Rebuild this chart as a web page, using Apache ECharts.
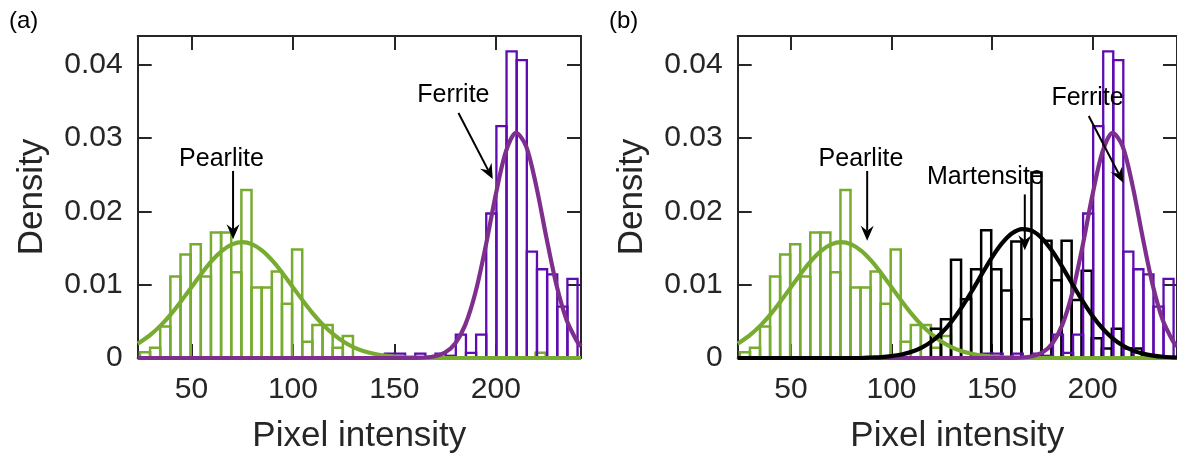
<!DOCTYPE html>
<html><head><meta charset="utf-8">
<script src="https://cdn.jsdelivr.net/npm/echarts@6/dist/echarts.min.js"></script>
<style>html,body{margin:0;padding:0;background:#fff}#c{width:1177px;height:459px}</style>
</head><body><div id="c"></div>
<script>
// ---------- data ----------
const xTicks = [50, 100, 150, 200];
const yTicks = [0, 0.01, 0.02, 0.03, 0.04];
const xRange = [23.5, 242];
const yRange = [0, 0.0439];
const binWidth = 5;

const pearliteStart = 24.6;
const pearliteHist = [0.0008, 0.0014, 0.0043, 0.0111, 0.0141, 0.0155, 0.0111, 0.0171, 0.0171, 0.0117,
  0.0229, 0.0096, 0.0096, 0.0118, 0.0074, 0.0148, 0.0022, 0.0045, 0.0045, 0.0014,
  0.0030, 0, 0, 0, 0, 0, 0, 0, 0, 0,
  0, 0, 0, 0, 0, 0, 0, 0, 0, 0.0007];

const ferriteStart = 145.3;
const ferriteHist = [0.0006, 0.0006, 0, 0.0006, 0, 0.0006, 0.0003, 0.0032, 0.0007, 0.0032,
  0.0197, 0.0316, 0.0418, 0.0406, 0.0145, 0.0121, 0.0114, 0.0070, 0.0108];

const martensiteStart = 119.6;
const martensiteHist = [0.0040, 0.0053, 0.0134, 0.0080, 0.0121, 0.0174, 0.0121, 0.0092, 0.0159, 0.0053,
  0.0253, 0.0160, 0.0106, 0.0160, 0.0079, 0.0119, 0.0027, 0.0013, 0.0040, 0.0013, 0.0013];

const curveX = [23.5, 25, 30, 35, 40, 45, 50, 55, 60, 65, 70, 75, 80, 85, 90, 95, 100, 105, 110, 115,
  120, 125, 130, 135, 140, 145, 150, 155, 160, 165, 170, 175, 180, 185, 190, 195, 200, 205, 210, 215,
  220, 225, 230, 235, 240, 242];
const pearliteFit = [0.00196, 0.00221, 0.00321, 0.00448, 0.00602, 0.00778, 0.00966, 0.01153, 0.01323, 0.01460,
  0.01549, 0.01580, 0.01549, 0.01460, 0.01323, 0.01153, 0.00966, 0.00778, 0.00602, 0.00448,
  0.00321, 0.00221, 0.00146, 0.00093, 0.00057, 0.00033, 0.00019, 0.00010, 0.00005, 0.00003,
  0.00001, 0, 0, 0, 0, 0, 0, 0, 0, 0, 0, 0, 0, 0, 0, 0];
const ferriteFit = [0, 0, 0, 0, 0, 0, 0, 0, 0, 0, 0, 0, 0, 0, 0, 0, 0, 0, 0, 0,
  0, 0, 0, 0, 0, 0, 0, 0, 0.00002, 0.00007, 0.00025, 0.00075, 0.00199, 0.00455, 0.00896, 0.01522,
  0.02229, 0.02816, 0.03070, 0.02884, 0.02337, 0.01634, 0.00985, 0.00512, 0.00230, 0.00160];
const martensiteFit = [0, 0, 0, 0, 0, 0, 0, 0, 0, 0, 0, 0, 0, 0, 0.00007, 0.00013, 0.00026, 0.00048, 0.00084, 0.00141,
  0.00226, 0.00344, 0.00501, 0.00693, 0.00913, 0.01147, 0.01373, 0.01565, 0.01700, 0.01758,
  0.01733, 0.01627, 0.01455, 0.01240, 0.01006, 0.00778, 0.00573, 0.00402, 0.00269, 0.00171,
  0.00104, 0.00060, 0.00033, 0.00017, 0.00009, 0.00007];

// annotations in data coordinates
const labelsA = [['Pearlite', 64.8, 0.0271], ['Ferrite', 179.1, 0.0359]];
const arrowsA = [[70.5, 0.0255, 70.5, 0.0162], [181.6, 0.0334, 198.5, 0.0244]];
const labelsB = [['Pearlite', 84.8, 0.0271], ['Martensite', 146.7, 0.0247], ['Ferrite', 197.5, 0.0355]];
const arrowsB = [[87.9, 0.0255, 87.9, 0.0160], [166.3, 0.0223, 166.3, 0.0147], [198.1, 0.0330, 215.3, 0.0239]];

// ---------- styles ----------
const FONT = 'Liberation Sans, Arial, Helvetica, sans-serif';
const AX = '#262626';
const GREEN = '#77AC30', PURPLE_BAR = '#5E0BB0', PURPLE = '#7E2F8E', BLACK = '#000000';

const chart = echarts.init(document.getElementById('c'), null, {renderer: 'canvas'});

const grids = [
  {left: 137.7, right: 596, top: 36, bottom: 99.3},
  {left: 737.7, right: -4, top: 36, bottom: 99.3}
];

function xAxes(gi) {
  const common = {type: 'value', gridIndex: gi, min: xRange[0], max: xRange[1], splitLine: {show: false},
    axisLine: {show: true, onZero: false, lineStyle: {color: AX, width: 2}}};
  return [
    Object.assign({}, common, {position: 'bottom',
      axisTick: {show: true, inside: true, length: 14, customValues: xTicks, lineStyle: {color: AX, width: 2}},
      axisLabel: {show: true, customValues: xTicks, fontSize: 30, color: AX, fontFamily: FONT, margin: 17},
      name: 'Pixel intensity', nameLocation: 'middle', nameGap: 61,
      nameTextStyle: {fontSize: 35, color: AX, fontFamily: FONT}}),
    Object.assign({}, common, {position: 'top',
      axisTick: {show: true, inside: true, length: 14, customValues: xTicks, lineStyle: {color: AX, width: 2}},
      axisLabel: {show: false}})
  ];
}
function yAxes(gi) {
  const common = {type: 'value', gridIndex: gi, min: yRange[0], max: yRange[1], splitLine: {show: false},
    axisLine: {show: true, onZero: false, lineStyle: {color: AX, width: 2}}};
  return [
    Object.assign({}, common, {position: 'left',
      axisTick: {show: true, inside: true, length: 14, customValues: yTicks, lineStyle: {color: AX, width: 2}},
      axisLabel: {show: true, customValues: yTicks, fontSize: 30, color: AX, fontFamily: FONT, margin: 15,
        formatter: v => (v === 0 ? '0' : String(+v.toFixed(2)))},
      name: 'Density', nameLocation: 'middle', nameGap: 88, nameRotate: 90,
      nameTextStyle: {fontSize: 35, color: AX, fontFamily: FONT}}),
    Object.assign({}, common, {position: 'right',
      axisTick: {show: true, inside: true, length: 14, customValues: yTicks, lineStyle: {color: AX, width: 2}},
      axisLabel: {show: false}})
  ];
}

function histSeries(start, heights, color, lw, gi) {
  const data = heights.map((h, i) => [start + i * binWidth, h]).filter(d => d[1] > 0);
  return {type: 'custom', xAxisIndex: gi * 2, yAxisIndex: gi * 2, data, clip: false, silent: true, z: 2,
    encode: {x: 0, y: 1},
    renderItem(params, api) {
      const x0 = api.value(0), h = api.value(1);
      const p0 = api.coord([x0, h]);
      const p1 = api.coord([x0 + binWidth, 0]);
      return {type: 'rect', shape: {x: p0[0], y: p0[1], width: p1[0] - p0[0], height: p1[1] - p0[1]},
        style: {fill: 'none', stroke: color, lineWidth: lw}};
    }};
}
function fitSeries(vals, color, gi) {
  return {type: 'line', xAxisIndex: gi * 2, yAxisIndex: gi * 2, data: curveX.map((x, i) => [x, vals[i]]),
    showSymbol: false, symbol: 'none', smooth: 0.3, clip: false, silent: true, z: 3,
    lineStyle: {color, width: 4.2}};
}
function arrowSeries(arrows, gi) {
  return {type: 'custom', xAxisIndex: gi * 2, yAxisIndex: gi * 2, data: arrows, clip: false, silent: true, z: 5,
    encode: {x: [0, 2], y: [1, 3]},
    renderItem(params, api) {
      const a = api.coord([api.value(0), api.value(1)]);
      const b = api.coord([api.value(2), api.value(3)]);
      const dx = b[0] - a[0], dy = b[1] - a[1];
      const L = Math.sqrt(dx * dx + dy * dy), ux = dx / L, uy = dy / L;
      const hl = 15, hw = 6.5, notch = 5;
      const bx = b[0] - ux * hl, by = b[1] - uy * hl;
      const nx = -uy, ny = ux;
      return {type: 'group', children: [
        {type: 'line', shape: {x1: a[0], y1: a[1], x2: b[0] - ux * (hl - notch), y2: b[1] - uy * (hl - notch)},
          style: {stroke: BLACK, lineWidth: 2}},
        {type: 'polygon', shape: {points: [[b[0], b[1]], [bx + nx * hw, by + ny * hw],
          [b[0] - ux * (hl - notch), b[1] - uy * (hl - notch)], [bx - nx * hw, by - ny * hw]]},
          style: {fill: BLACK}}
      ]};
    }};
}
function labelSeries(labels, gi) {
  return {type: 'custom', xAxisIndex: gi * 2, yAxisIndex: gi * 2, data: labels.map(l => [l[1], l[2]]),
    clip: false, silent: true, z: 6, encode: {x: 0, y: 1},
    renderItem(params, api) {
      const p = api.coord([api.value(0), api.value(1)]);
      return {type: 'text', x: p[0], y: p[1], style: {text: labels[params.dataIndex][0], fill: BLACK,
        fontSize: 25, fontFamily: FONT, align: 'center', verticalAlign: 'middle'}};
    }};
}

chart.setOption({
  animation: false,
  backgroundColor: '#ffffff',
  grid: grids,
  xAxis: [...xAxes(0), ...xAxes(1)],
  yAxis: [...yAxes(0), ...yAxes(1)],
  graphic: [
    {type: 'text', left: 9, top: 9, style: {text: '(a)', fontSize: 24, fontFamily: FONT, fill: BLACK}},
    {type: 'text', left: 609, top: 9, style: {text: '(b)', fontSize: 24, fontFamily: FONT, fill: BLACK}}
  ],
  series: [
    histSeries(pearliteStart, pearliteHist, GREEN, 2.5, 0),
    histSeries(ferriteStart, ferriteHist, PURPLE_BAR, 2.3, 0),
    fitSeries(pearliteFit, GREEN, 0),
    fitSeries(ferriteFit, PURPLE, 0),
    arrowSeries(arrowsA, 0),
    labelSeries(labelsA, 0),
    histSeries(pearliteStart, pearliteHist, GREEN, 2.5, 1),
    histSeries(martensiteStart, martensiteHist, BLACK, 2.5, 1),
    histSeries(ferriteStart, ferriteHist, PURPLE_BAR, 2.3, 1),
    fitSeries(pearliteFit, GREEN, 1),
    fitSeries(ferriteFit, PURPLE, 1),
    fitSeries(martensiteFit, BLACK, 1),
    arrowSeries(arrowsB, 1),
    labelSeries(labelsB, 1)
  ]
});
</script>
</body></html>
